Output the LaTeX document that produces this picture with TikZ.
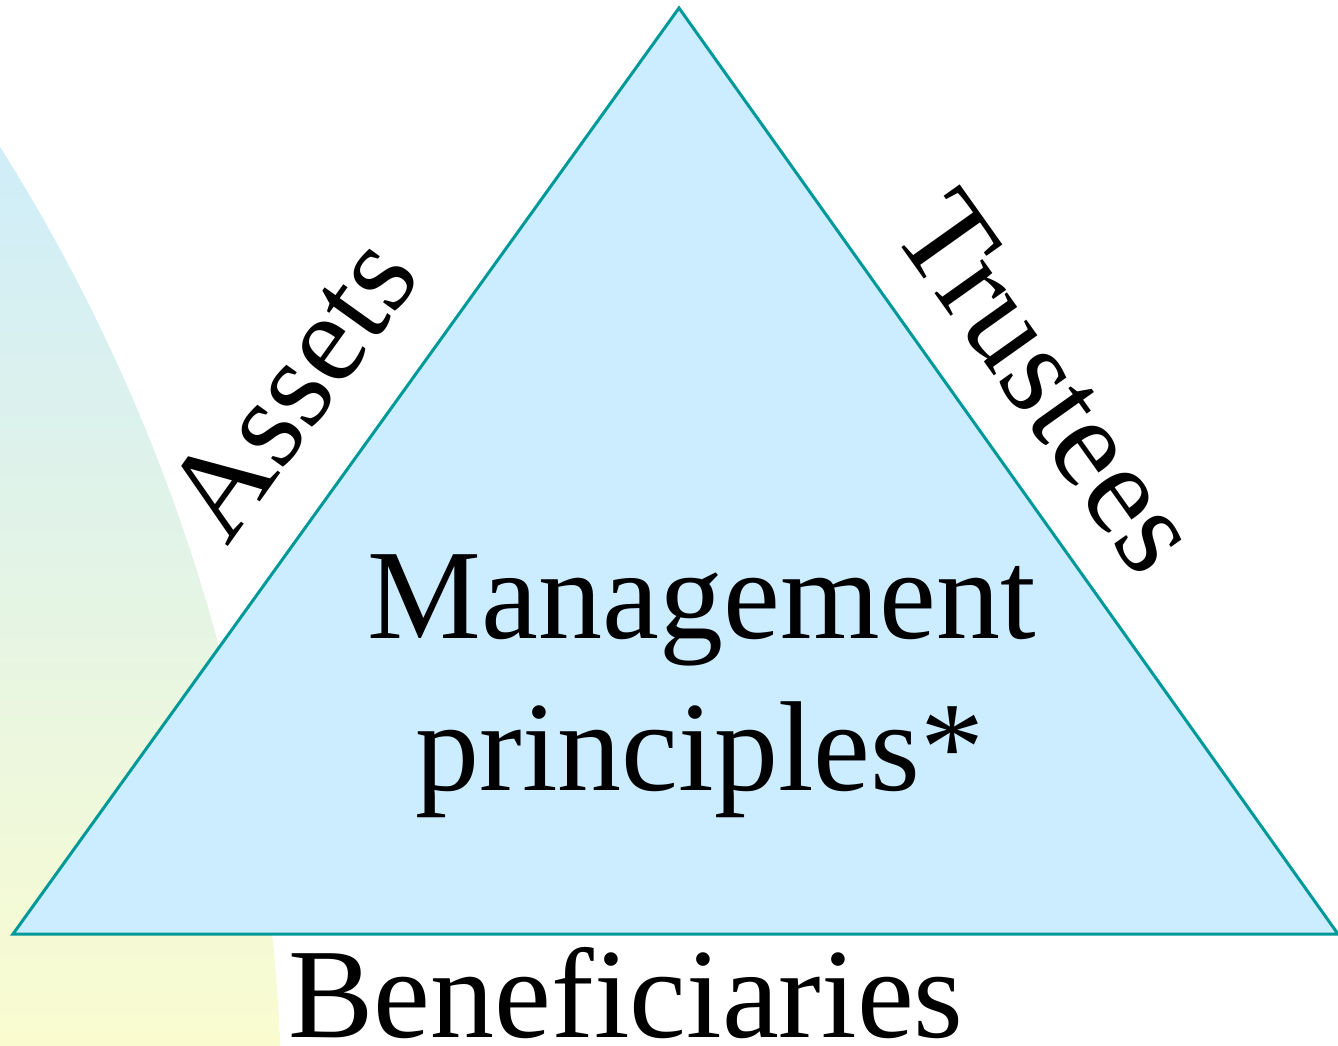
\documentclass[tikz,border=0pt]{standalone}
\usepackage{fontspec}
\setmainfont{Liberation Serif}
\definecolor{triFill}{HTML}{CCECFF}
\definecolor{triEdge}{HTML}{009999}
\definecolor{gradTop}{HTML}{CFEDF9}
\definecolor{gradBot}{HTML}{FAFCD0}
\begin{document}
\begin{tikzpicture}[x=1pt,y=-1pt,
  lbl/.style={font=\fontsize{128}{152}\selectfont, inner sep=0pt, text=black},
  tri/.style={fill=triFill, draw=triEdge, line width=3pt}]
\useasboundingbox (0,0) rectangle (1338,1045);
% background arc region with gradient
\begin{scope}
  \clip (0,0) rectangle (1338,1045);
  \clip (-1554,1125) circle [radius=1836];
  \shade[top color=gradTop, bottom color=gradBot] (0,145) rectangle (300,1045);
\end{scope}
% triangle
\coordinate (top) at (679,8);
\coordinate (bl) at (13,934);
\coordinate (br) at (1338,934);
\draw[tri] (top) -- (bl) -- (br) -- cycle;
% labels
\node[lbl, anchor=base] (mgmt) at (702,638) {Management};
\node[lbl, anchor=base] (princ) at (700,790) {principles*};
\node[lbl, anchor=base] (benef) at (626,1037) {Beneficiaries};
\node[lbl, anchor=base, rotate=54.4] (assets) at (325,412) {Assets};
\node[lbl, anchor=base, rotate=-54.6] (trustees) at (1015,406) {Trustees};
\end{tikzpicture}
\end{document}
